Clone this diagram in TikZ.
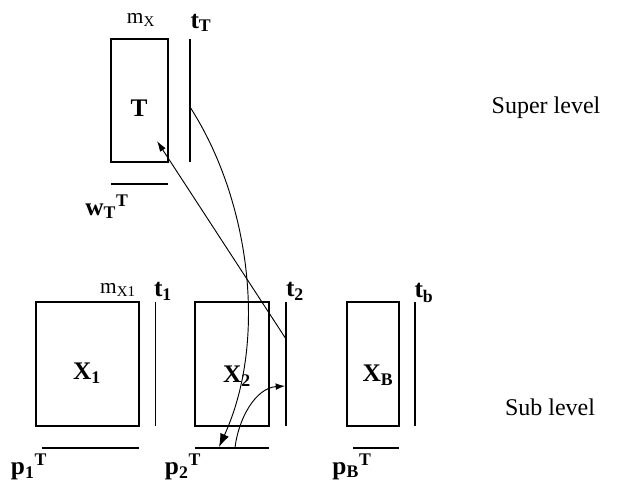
\documentclass[tikz,border=0pt]{standalone}
\usepackage{fontspec}
\setmainfont{Liberation Serif}
\usetikzlibrary{arrows.meta}
\begin{document}
\begin{tikzpicture}[x=0.75pt,y=-0.75pt,
  box/.style={draw,line width=1.1pt,inner sep=0pt},
  vecline/.style={line width=1.3pt},
  blbl/.style={font=\fontsize{19}{21}\selectfont\bfseries,inner sep=0pt},
  mlbl/.style={font=\fontsize{16}{18}\selectfont,inner sep=0pt},
  lvl/.style={font=\fontsize{18}{20}\selectfont,inner sep=0pt},
  conn/.style={line width=0.7pt}]
\useasboundingbox (0,0) rectangle (618,483);
% super level
\node[box,minimum width=42.75pt,minimum height=92.25pt] (T) at (139.5,100.5) {};
\node[blbl] (Tl) at (139,108) {T};
\node[mlbl] (mX) at (141,20) {m\textsubscript{X}};
\draw[vecline] (190,39) coordinate (tTa) -- (190,162) coordinate (tTb);
\node[blbl] (tT) at (201,23) {t\textsubscript{T}};
\draw[vecline] (111,184) coordinate (wa) -- (168,184) coordinate (wb);
\node[blbl] (wT) at (107,207) {w\textsubscript{T}\textsuperscript{T}};
% sub level
\node[box,minimum width=77.25pt,minimum height=93pt] (X1) at (87.5,364) {};
\node[blbl] (X1l) at (87,373) {X\textsubscript{1}};
\node[mlbl] (mX1) at (118,290) {m\textsubscript{X1}};
\draw[vecline] (155.5,302) -- (155.5,426);
\node[blbl] (t1) at (163,291) {t\textsubscript{1}};
\draw[vecline] (42,448) -- (139,448);
\node[blbl] (p1) at (29,467) {p\textsubscript{1}\textsuperscript{T}};

\node[box,minimum width=55.5pt,minimum height=93pt] (X2) at (232,364) {};
\node[blbl] (X2l) at (237,376) {X\textsubscript{2}};
\draw[vecline] (286,302) coordinate (t2top) -- (286,426) coordinate (t2bot);
\node[blbl] (t2) at (295,291) {t\textsubscript{2}};
\draw[vecline] (195,448) coordinate (p2a) -- (269,448) coordinate (p2b);
\node[blbl] (p2) at (183,467) {p\textsubscript{2}\textsuperscript{T}};

\node[box,minimum width=39pt,minimum height=93pt] (XB) at (373,364) {};
\node[blbl] (XBl) at (378,375) {X\textsubscript{B}};
\draw[vecline] (415,302) -- (415,426);
\node[blbl] (tb) at (424,293) {t\textsubscript{b}};
\draw[vecline] (353,448) -- (399,448);
\node[blbl] (pB) at (352,467) {p\textsubscript{B}\textsuperscript{T}};

\node[lvl] (sup) at (546,108) {Super level};
\node[lvl] (sub) at (550,407) {Sub level};

% connectors
\coordinate (c1s) at (190,107);
\coordinate (c1e) at (219,447);
\coordinate (c2s) at (235,448);
\coordinate (c2e) at (285,386);
\coordinate (c3s) at (286,339);
\coordinate (c3e) at (157,141);
\draw[conn,-{Latex[length=10pt,width=7pt]}] (c1s) .. controls (250,200) and (268,340) .. (c1e);
\draw[conn,-{Latex[length=7pt,width=5pt]}] (c2s) .. controls (238,420) and (255,388) .. (c2e);
\draw[conn,-{Latex[length=8pt,width=5pt]}] (c3s) -- (c3e);
\end{tikzpicture}
\end{document}
